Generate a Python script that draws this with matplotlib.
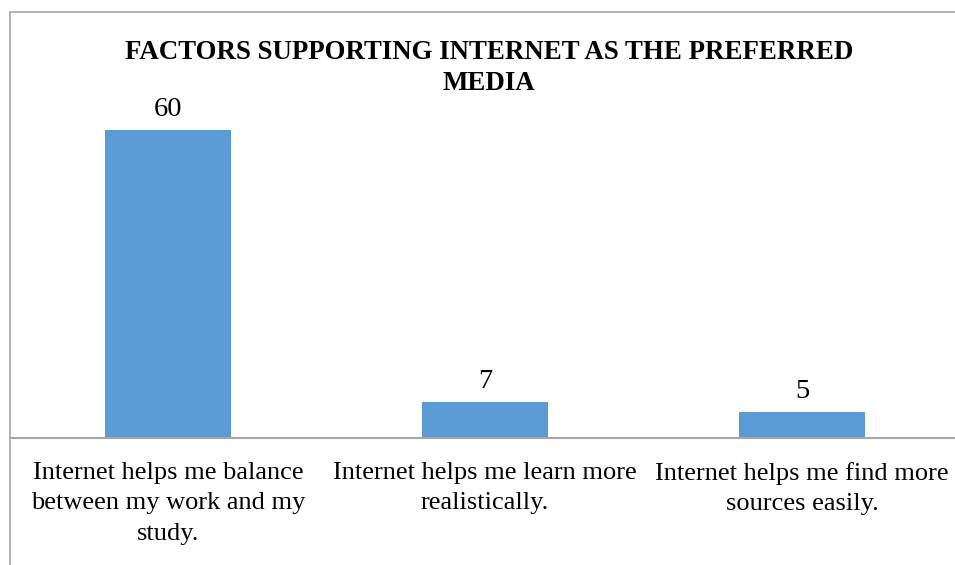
import matplotlib
matplotlib.use('Agg')
import matplotlib.pyplot as plt
from matplotlib.patches import Rectangle

plt.rcParams['font.family'] = ['Liberation Serif', 'DejaVu Serif']

categories = ['Internet helps me balance\nbetween my work and my\nstudy.',
              'Internet helps me learn more\nrealistically.',
              'Internet helps me find more\nsources easily.']
values = [60, 7, 5]
title = 'FACTORS SUPPORTING INTERNET AS THE PREFERRED\nMEDIA'

W, H = 955, 565
fig = plt.figure(figsize=(W / 100, H / 100), dpi=100)

# chart border (right and bottom run off the image)
fig.patches.append(Rectangle((10 / W, -0.2), 1.2, (H - 12) / H + 0.2,
                             transform=fig.transFigure, fill=False,
                             edgecolor='#a6a6a6', linewidth=1.2, zorder=0))

ax = fig.add_axes([9.5 / W, (H - 438) / H, 951 / W, 359 / H])
x = range(len(values))
bars = ax.bar(x, values, width=0.4, color='#5b9bd5', zorder=2)
ax.set_xlim(-0.5, 2.5)
ax.set_ylim(0, 70)

for b, v in zip(bars, values):
    ax.text(b.get_x() + b.get_width() / 2, v + 1.6, str(v),
            ha='center', va='bottom', fontsize=20.5)

ax.set_xticks(list(x))
ax.set_xticklabels(categories, fontsize=19, linespacing=1.5)
ax.tick_params(axis='x', length=0, pad=17)
ax.set_yticks([])
for s in ['top', 'right', 'left']:
    ax.spines[s].set_visible(False)
ax.spines['bottom'].set_color('#a6a6a6')
ax.spines['bottom'].set_linewidth(1.5)
ax.patch.set_visible(False)

fig.text(489 / W, (H - 68) / H, title, ha='center', va='center',
         fontsize=19.4, fontweight='bold', linespacing=1.32)

fig.savefig('out.png', dpi=100)
